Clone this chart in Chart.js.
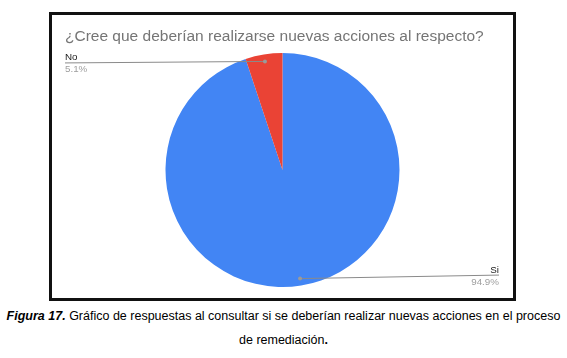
<!DOCTYPE html>
<html>
<head>
<meta charset="utf-8">
<script src="https://cdn.jsdelivr.net/npm/chart.js@4"></script>
<style>
  html, body { margin: 0; padding: 0; background: #fff; }
  body { width: 567px; height: 358px; position: relative; overflow: hidden; font-family: "Liberation Sans", Arial, sans-serif; }
  #box { position: absolute; left: 49px; top: 12px; width: 461px; height: 283px; border: 3px solid #111; background: #fff; }
  #wrap { position: absolute; left: 0; top: 0; width: 461px; height: 283px; }
  #caption { position: absolute; left: 0; top: 304px; width: 567px; text-align: center; font-size: 12.5px; line-height: 24px; color: #000; white-space: nowrap; }
</style>
</head>
<body>
<div id="box"><div id="wrap"><canvas id="c"></canvas></div></div>
<div id="caption"><b><i>Figura 17.</i></b> Gráfico de respuestas al consultar si se deberían realizar nuevas acciones en el proceso<br>de remediación<b>.</b></div>
<script>
const chartTitle = "¿Cree que deberían realizarse nuevas acciones al respecto?";
const categories = ["Si", "No"];
const values = [94.9, 5.1];
const sliceColors = ["#4285F4", "#EA4335"];

const leaderLabels = {
  id: 'leaderLabels',
  afterDatasetsDraw(chart) {
    const ctx = chart.ctx;
    const meta = chart.getDatasetMeta(0);
    const area = chart.chartArea;
    const total = values.reduce((a, b) => a + b, 0);
    meta.data.forEach((arc, i) => {
      const p = arc.getProps(['x', 'y', 'startAngle', 'endAngle', 'outerRadius'], true);
      const mid = (p.startAngle + p.endAngle) / 2;
      const r = p.outerRadius * 0.94;
      const dx = p.x + Math.cos(mid) * r;
      const dy = p.y + Math.sin(mid) * r;
      const left = Math.cos(mid) < 0;
      const ex = left ? area.left : area.right - 1;
      const ey = left ? dy + 1.5 : dy - 3.5;
      ctx.save();
      ctx.strokeStyle = '#8a8a8a';
      ctx.lineWidth = 1;
      ctx.beginPath();
      ctx.moveTo(dx, dy);
      ctx.lineTo(ex, ey);
      ctx.stroke();
      ctx.fillStyle = '#9a9a9a';
      ctx.beginPath();
      ctx.arc(dx, dy, 2, 0, Math.PI * 2);
      ctx.fill();
      ctx.font = '9.8px "Liberation Sans", Arial, sans-serif';
      ctx.textAlign = left ? 'left' : 'right';
      ctx.textBaseline = 'alphabetic';
      ctx.fillStyle = '#222';
      ctx.fillText(categories[i], ex, ey - 2.5);
      ctx.fillStyle = '#9e9e9e';
      ctx.fillText((values[i] / total * 100).toFixed(1) + '%', ex, ey + 9.5);
      ctx.restore();
    });
  }
};

new Chart(document.getElementById('c'), {
  type: 'pie',
  data: {
    labels: categories,
    datasets: [{ data: values, backgroundColor: sliceColors, borderWidth: 0 }]
  },
  options: {
    responsive: true,
    maintainAspectRatio: false,
    animation: false,
    layout: { padding: { left: 13, right: 13, top: 0, bottom: 11 } },
    plugins: {
      legend: { display: false },
      tooltip: { enabled: false },
      title: {
        display: true,
        text: chartTitle,
        align: 'start',
        color: '#757575',
        font: { family: '"Liberation Sans", Arial, sans-serif', size: 15.5, weight: 'normal', lineHeight: 1.2 },
        padding: { top: 12, bottom: 7.4 }
      }
    }
  },
  plugins: [leaderLabels]
});
</script>
</body>
</html>
